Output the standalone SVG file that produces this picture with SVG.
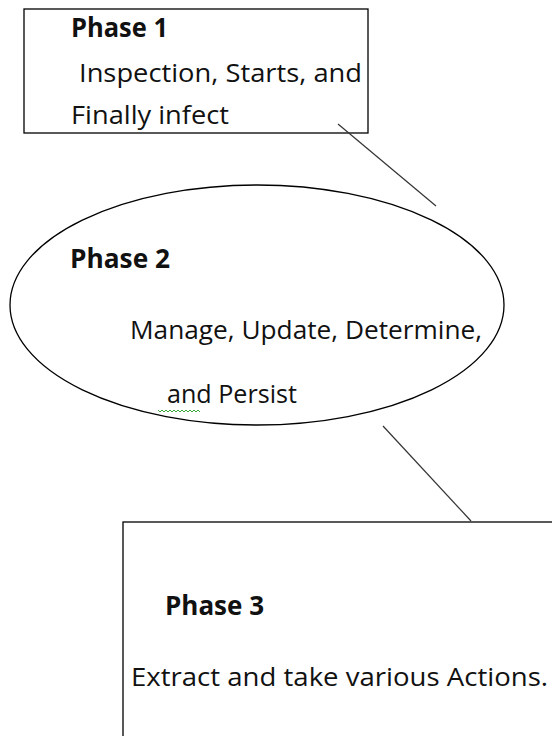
<svg xmlns="http://www.w3.org/2000/svg" width="552" height="736" viewBox="0 0 552 736">
<style>
.shape{fill:#fff;stroke:#000;stroke-width:1.3}
.conn{stroke:#333;stroke-width:1.2;fill:none}
.t{font-family:"Open Sans","Noto Sans",sans-serif;font-size:26px;fill:#111}
.b{font-weight:bold}
</style>
<rect width="552" height="736" fill="#fff"/>
<g id="phase1">
<rect class="shape" x="24" y="9" width="344" height="124"/>
<text class="t b" x="71" y="37" textLength="97" lengthAdjust="spacingAndGlyphs">Phase 1</text>
<text class="t" x="79" y="82" textLength="283" lengthAdjust="spacingAndGlyphs">Inspection, Starts, and</text>
<text class="t" x="71" y="124" textLength="158" lengthAdjust="spacingAndGlyphs">Finally infect</text>
</g>
<g id="phase2">
<ellipse class="shape" cx="257" cy="305" rx="247" ry="120"/>
<text class="t b" x="70" y="268" textLength="100" lengthAdjust="spacingAndGlyphs">Phase 2</text>
<text class="t" x="130" y="339" textLength="352" lengthAdjust="spacingAndGlyphs">Manage, Update, Determine,</text>
<text class="t" x="167" y="403" textLength="130" lengthAdjust="spacingAndGlyphs">and Persist</text>
<polyline fill="none" stroke="#2a9d2a" stroke-width="0.9" points="158,410 160,412 162,410 164,412 166,410 168,412 170,410 172,412 174,410 176,412 178,410 180,412 182,410 184,412 186,410 188,412 190,410 192,412 194,410 196,412 198,410 200,412"/>
</g>
<g id="phase3">
<rect class="shape" x="123" y="522" width="440" height="230"/>
<text class="t b" x="165" y="615" textLength="99" lengthAdjust="spacingAndGlyphs">Phase 3</text>
<text class="t" x="131" y="686" textLength="417" lengthAdjust="spacingAndGlyphs">Extract and take various Actions.</text>
</g>
<g id="connectors">
<line class="conn" x1="338" y1="124" x2="436" y2="206"/>
<line class="conn" x1="383" y1="426" x2="471" y2="521"/>
</g>
</svg>
